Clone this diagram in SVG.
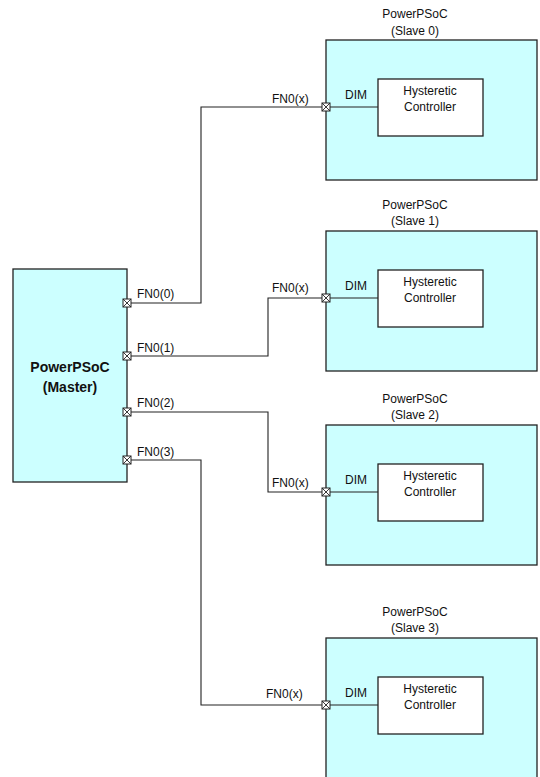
<svg xmlns="http://www.w3.org/2000/svg" width="540" height="777" viewBox="0 0 540 777">
<style>
.box{fill:#CCFFFF;stroke:#222;stroke-width:1.3}
.inner{fill:#fff;stroke:#222;stroke-width:1.3}
.wire{fill:none;stroke:#222;stroke-width:1.1}
text{font-family:"Liberation Sans",Arial,sans-serif;font-size:12px;fill:#111}
.c{text-anchor:middle}
.b{font-weight:bold;font-size:14px}
</style>
<defs>
<g id="port">
<rect x="-4" y="-4" width="8" height="8" fill="#fff" stroke="#222" stroke-width="1"/>
<path d="M-4,-4L4,4M4,-4L-4,4" stroke="#222" stroke-width="0.9"/>
</g>
</defs>
<rect width="540" height="777" fill="#fff"/>
<g id="connectors">
<path class="wire" d="M127,303H201V107H326"/>
<path class="wire" d="M127,356H268V298H326"/>
<path class="wire" d="M127,412H268V492H326"/>
<path class="wire" d="M127,460H201V705H326"/>
<text x="272" y="103">FN0(x)</text>
<text x="272" y="292">FN0(x)</text>
<text x="272" y="487">FN0(x)</text>
<text x="266" y="698">FN0(x)</text>
</g>
<g id="master">
<rect class="box" x="13" y="269" width="114" height="213"/>
<text class="c b" x="70" y="372">PowerPSoC</text>
<text class="c b" x="70" y="392">(Master)</text>
<use href="#port" x="127" y="303"/>
<use href="#port" x="127" y="356"/>
<use href="#port" x="127" y="412"/>
<use href="#port" x="127" y="460"/>
<text x="137" y="298">FN0(0)</text>
<text x="137" y="352">FN0(1)</text>
<text x="137" y="407">FN0(2)</text>
<text x="137" y="456">FN0(3)</text>
</g>
<g id="slave0">
<text class="c" x="415" y="18">PowerPSoC</text>
<text class="c" x="415" y="35">(Slave 0)</text>
<rect class="box" x="326" y="40" width="211" height="140"/>
<rect class="inner" x="378" y="79" width="105" height="57"/>
<path class="wire" d="M326,107H378"/>
<use href="#port" x="326" y="107"/>
<text x="345" y="99">DIM</text>
<text class="c" x="430" y="95">Hysteretic</text>
<text class="c" x="430" y="111">Controller</text>
</g>
<g id="slave1">
<text class="c" x="415" y="209">PowerPSoC</text>
<text class="c" x="415" y="225">(Slave 1)</text>
<rect class="box" x="326" y="231" width="211" height="140"/>
<rect class="inner" x="378" y="270" width="105" height="57"/>
<path class="wire" d="M326,298H378"/>
<use href="#port" x="326" y="298"/>
<text x="345" y="290">DIM</text>
<text class="c" x="430" y="286">Hysteretic</text>
<text class="c" x="430" y="302">Controller</text>
</g>
<g id="slave2">
<text class="c" x="415" y="403">PowerPSoC</text>
<text class="c" x="415" y="419">(Slave 2)</text>
<rect class="box" x="326" y="425" width="211" height="140"/>
<rect class="inner" x="378" y="464" width="105" height="57"/>
<path class="wire" d="M326,492H378"/>
<use href="#port" x="326" y="492"/>
<text x="345" y="484">DIM</text>
<text class="c" x="430" y="480">Hysteretic</text>
<text class="c" x="430" y="496">Controller</text>
</g>
<g id="slave3">
<text class="c" x="415" y="616">PowerPSoC</text>
<text class="c" x="415" y="632">(Slave 3)</text>
<rect class="box" x="326" y="638" width="211" height="150"/>
<rect class="inner" x="378" y="677" width="105" height="57"/>
<path class="wire" d="M326,705H378"/>
<use href="#port" x="326" y="705"/>
<text x="345" y="697">DIM</text>
<text class="c" x="430" y="693">Hysteretic</text>
<text class="c" x="430" y="709">Controller</text>
</g>
</svg>
